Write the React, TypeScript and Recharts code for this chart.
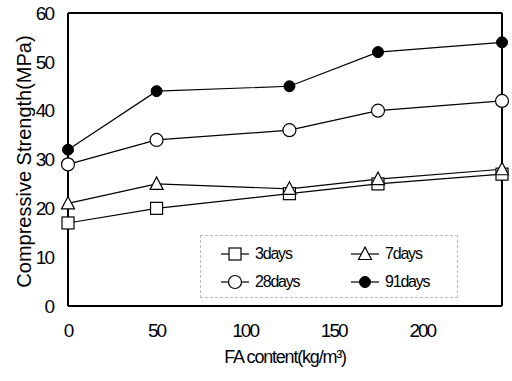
import React from 'react';
import { LineChart, Line, XAxis, YAxis, ReferenceLine } from 'recharts';

const faContent = [0, 50, 125, 175, 245];
const days3 = [17, 20, 23, 25, 27];
const days7 = [21, 25, 24, 26, 28];
const days28 = [29, 34, 36, 40, 42];
const days91 = [32, 44, 45, 52, 54];
const xTicks = [0, 50, 100, 150, 200];
const yTicks = [0, 10, 20, 30, 40, 50, 60];

const data = faContent.map((fa, i) => ({
  fa,
  d3: days3[i],
  d7: days7[i],
  d28: days28[i],
  d91: days91[i],
}));

const FONT = '"Liberation Sans", Arial, sans-serif';

type Marker = 'square' | 'triangle' | 'circle' | 'dot';

const drawMarker = (kind: Marker, cx: number, cy: number, key?: string | number) => {
  if (kind === 'square') {
    return <rect key={key} x={cx - 6} y={cy - 6} width={12} height={12} fill="#fff" stroke="#000" strokeWidth={1.2} />;
  }
  if (kind === 'triangle') {
    return (
      <polygon
        key={key}
        points={`${cx},${cy - 7} ${cx - 6.5},${cy + 5.5} ${cx + 6.5},${cy + 5.5}`}
        fill="#fff"
        stroke="#000"
        strokeWidth={1.2}
      />
    );
  }
  if (kind === 'circle') {
    return <circle key={key} cx={cx} cy={cy} r={6.5} fill="#fff" stroke="#000" strokeWidth={1.2} />;
  }
  return <circle key={key} cx={cx} cy={cy} r={5.5} fill="#000" stroke="#000" />;
};

const dotFor = (kind: Marker) => (props: any) => drawMarker(kind, props.cx, props.cy, props.index);

const legendItems: { label: string; kind: Marker }[] = [
  { label: '3days', kind: 'square' },
  { label: '7days', kind: 'triangle' },
  { label: '28days', kind: 'circle' },
  { label: '91days', kind: 'dot' },
];

const ChartLegend = () => (
  <div
    style={{
      position: 'absolute',
      left: 200,
      top: 235,
      width: 258,
      height: 63,
      border: '1px dashed #bbb',
      boxSizing: 'border-box',
      display: 'grid',
      gridTemplateColumns: '130px 120px',
      paddingLeft: 19,
      paddingTop: 6,
      fontFamily: FONT,
      fontSize: 16,
      letterSpacing: -1.2,
      color: '#000',
      background: '#fff',
    }}
  >
    {legendItems.map((it) => (
      <div key={it.label} style={{ display: 'flex', alignItems: 'center', height: 24 }}>
        <svg width={30} height={20}>
          <line x1={1} y1={10} x2={29} y2={10} stroke="#000" strokeWidth={1.2} />
          {drawMarker(it.kind, 15, 10)}
        </svg>
        <span style={{ marginLeft: 5 }}>{it.label}</span>
      </div>
    ))}
  </div>
);

const YLabel = (props: any) => {
  const { viewBox } = props;
  const cy = viewBox.y + viewBox.height / 2 + 2;
  return (
    <text
      x={24}
      y={cy}
      transform={`rotate(-90, 24, ${cy})`}
      textAnchor="middle"
      dominantBaseline="central"
      fill="#000"
      fontSize={20}
      fontFamily={FONT}
    >
      Compressive Strength(MPa)
    </text>
  );
};

const App: React.FC = () => {
  return (
    <div style={{ position: 'absolute', left: 0, top: 0, width: 512, height: 381, background: '#fff' }}>
      <LineChart width={512} height={381} data={data} margin={{ top: 13, right: 10, left: 30, bottom: 40 }}>
        <XAxis
          dataKey="fa"
          type="number"
          domain={[0, 245]}
          ticks={xTicks}
          tickLine={false}
          axisLine={{ stroke: '#000', strokeWidth: 2 }}
          tick={{ fill: '#000', fontSize: 19, fontFamily: FONT, letterSpacing: -2 }}
          tickMargin={12}
          height={35}
          label={{
            value: 'FA content(kg/m³)',
            position: 'insideBottom',
            offset: -22,
            style: { fill: '#000', fontSize: 18, fontFamily: FONT, letterSpacing: -1.2 },
          }}
        />
        <YAxis
          type="number"
          domain={[0, 60]}
          ticks={yTicks}
          tickLine={false}
          axisLine={{ stroke: '#000', strokeWidth: 2 }}
          tick={{ fill: '#000', fontSize: 19, fontFamily: FONT, letterSpacing: -2 }}
          tickMargin={9}
          width={38}
          label={<YLabel />}
        />
        <ReferenceLine y={60} stroke="#000" strokeWidth={2} />
        <ReferenceLine x={245} stroke="#000" strokeWidth={2} />
        <Line dataKey="d3" stroke="#000" strokeWidth={1.2} dot={dotFor('square')} isAnimationActive={false} />
        <Line dataKey="d7" stroke="#000" strokeWidth={1.2} dot={dotFor('triangle')} isAnimationActive={false} />
        <Line dataKey="d28" stroke="#000" strokeWidth={1.2} dot={dotFor('circle')} isAnimationActive={false} />
        <Line dataKey="d91" stroke="#000" strokeWidth={1.2} dot={dotFor('dot')} isAnimationActive={false} />
      </LineChart>
      <ChartLegend />
    </div>
  );
};

export default App;
